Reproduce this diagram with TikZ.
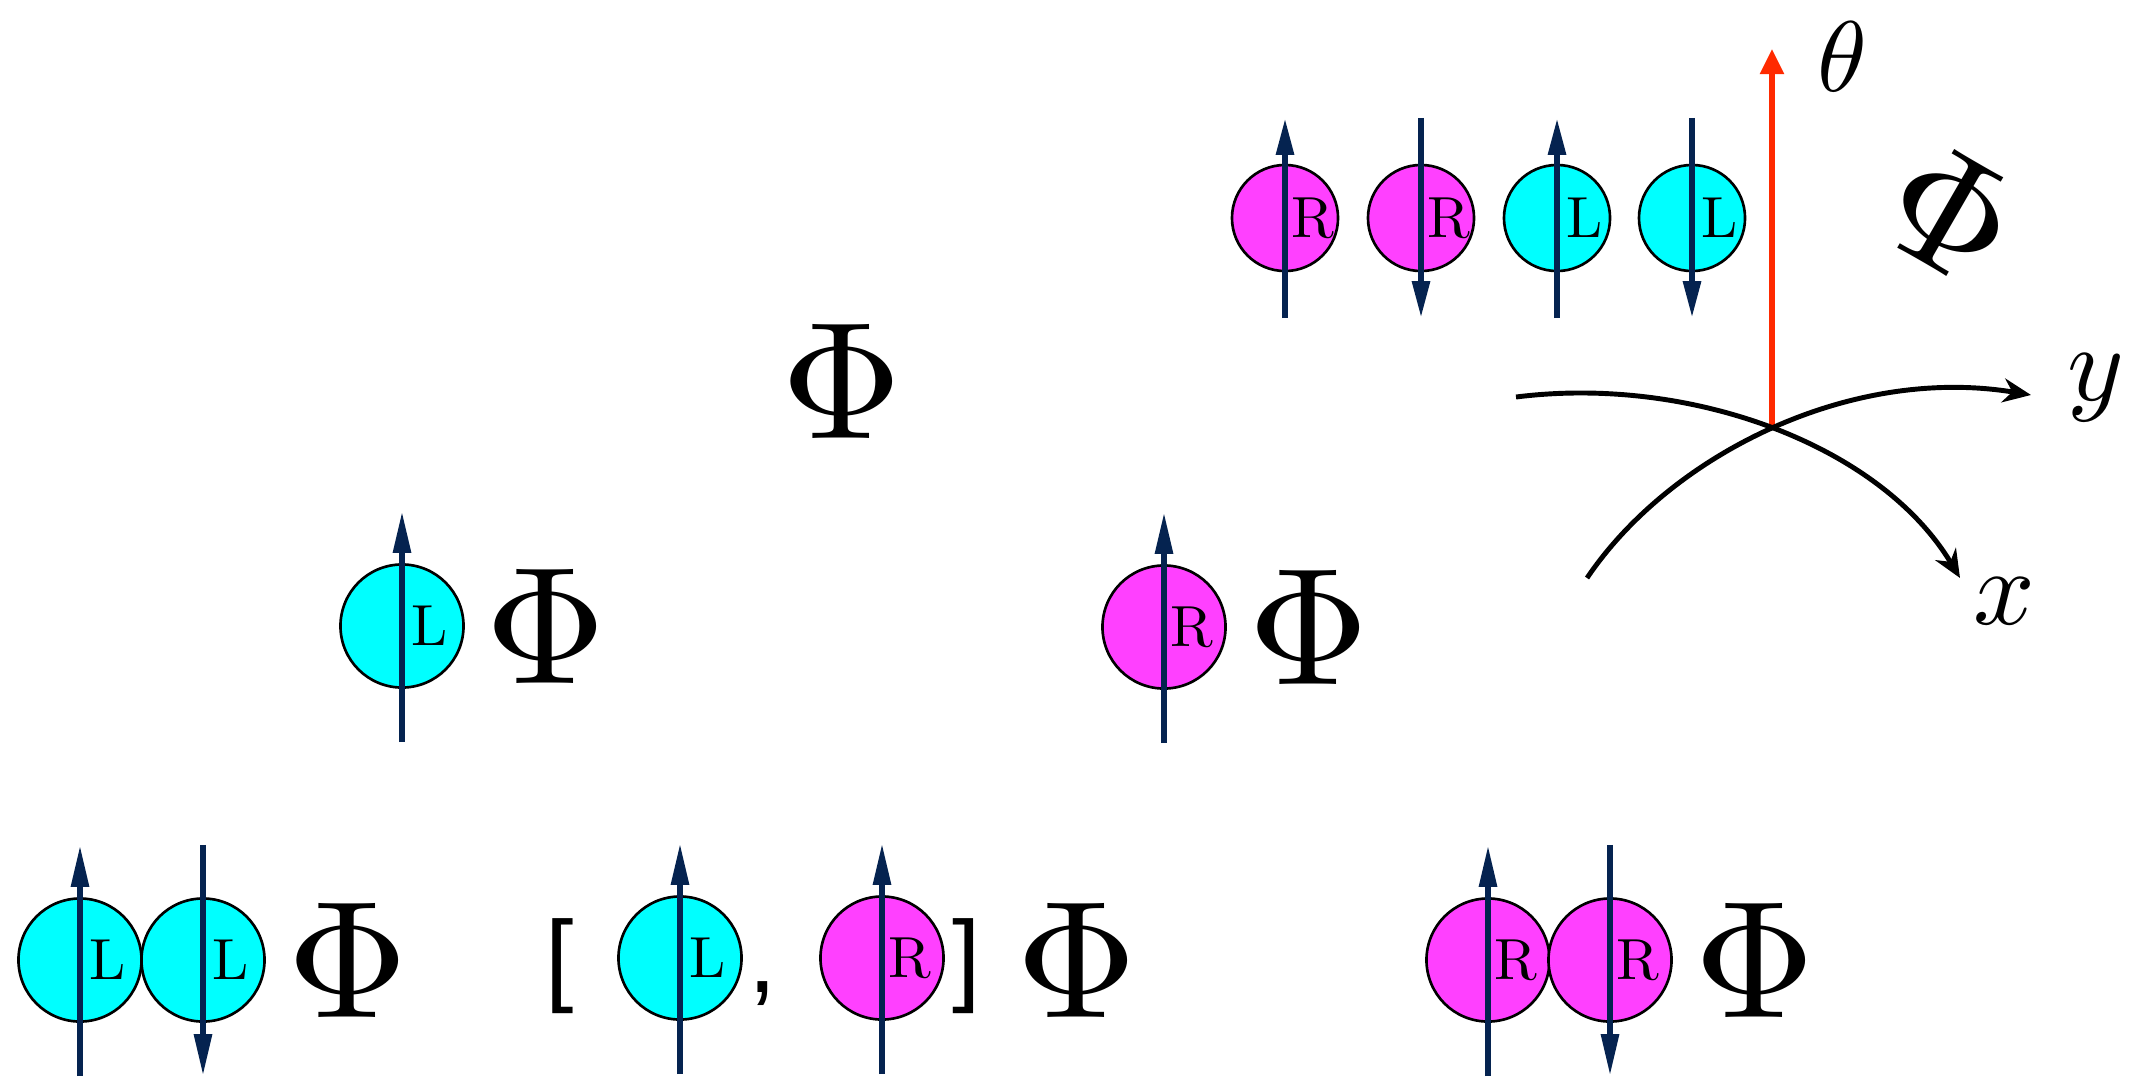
\documentclass[tikz,border=0pt]{standalone}
\usepackage{fontspec}
\newfontfamily\brkfont{Liberation Sans}
\usetikzlibrary{arrows.meta}
\definecolor{spinnavy}{HTML}{052350}
\definecolor{ballcyan}{HTML}{00FFFF}
\definecolor{ballmag}{HTML}{FF40FF}
\definecolor{thetared}{HTML}{FF2A00}
\begin{document}
\begin{tikzpicture}[x=0.01cm,y=-0.01cm,
  ball/.style={circle,draw=black,line width=0.75pt,inner sep=0pt,minimum size=1.23cm},
  lball/.style={ball,fill=ballcyan},
  rball/.style={ball,fill=ballmag},
  smallball/.style={minimum size=1.06cm},
  lbl/.style={inner sep=0pt,scale=1.65},
  phi/.style={inner sep=0pt,scale=4.75},
  brk/.style={inner sep=0pt,anchor=base,font=\brkfont\fontsize{29}{31}\selectfont},
  spin/.style={draw=spinnavy,line width=1.7pt,-{Triangle[length=0.42cm,width=0.17cm]}},
  sspin/.style={draw=spinnavy,line width=1.7pt,-{Triangle[length=0.37cm,width=0.17cm]}},
  axis/.style={draw=black,line width=1.4pt,-{Stealth[length=0.28cm,width=0.24cm]}},
  axlbl/.style={inner sep=0pt,scale=3.07},
]
\useasboundingbox (0,0) rectangle (2149,1078);

% ---------- top row ----------
\node[rball,smallball] (t1) at (1285,218) {};
\node[rball,smallball] (t2) at (1421,218) {};
\node[lball,smallball] (t3) at (1557,218) {};
\node[lball,smallball] (t4) at (1692,218) {};
\draw[sspin] ([yshift=-1.0cm]t1.center) -- ([yshift=1.0cm]t1.center);
\draw[sspin] ([yshift=1.0cm]t2.center) -- ([yshift=-1.0cm]t2.center);
\draw[sspin] ([yshift=-1.0cm]t3.center) -- ([yshift=1.0cm]t3.center);
\draw[sspin] ([yshift=1.0cm]t4.center) -- ([yshift=-1.0cm]t4.center);
\node[lbl] (t1l) at ([xshift=0.28cm]t1.center) {R};
\node[lbl] (t2l) at ([xshift=0.28cm]t2.center) {R};
\node[lbl] (t3l) at ([xshift=0.28cm]t3.center) {L};
\node[lbl] (t4l) at ([xshift=0.28cm]t4.center) {L};

% ---------- axes ----------
\coordinate (o) at (1772,425);
\coordinate (thtip) at (1772,49);
\coordinate (xs) at (1516,397);
\coordinate (xe) at (1960,578);
\coordinate (ys) at (1587,578);
\coordinate (ye) at (2031,395);
\draw[draw=thetared,line width=1.5pt,-{Triangle[length=0.25cm,width=0.23cm]}] (o) -- (thtip);
\draw[axis] (xs) .. controls (1690,375) and (1880,445) .. (xe);
\draw[axis] (ys) .. controls (1670,455) and (1850,365) .. (ye);
\node[inner sep=0pt,scale=2.85] (th) at (1842,57) {$\theta$};
\node[axlbl] (yl) at (2096,388) {$y$};
\node[axlbl] (xl) at (2004,601) {$x$};
\node[phi,rotate=-30] (phirot) at (1951,213) {$\Phi$};

% ---------- middle ----------
\node[phi] (phitop) at (842,381) {$\Phi$};
\node[lball] (m1) at (402,626) {};
\draw[spin] ([yshift=-1.16cm]m1.center) -- ([yshift=1.15cm]m1.center);
\node[lbl] (m1l) at ([xshift=0.28cm]m1.center) {L};
\node[phi] (m1p) at (546,626) {$\Phi$};
\node[rball] (m2) at (1164,627) {};
\draw[spin] ([yshift=-1.16cm]m2.center) -- ([yshift=1.15cm]m2.center);
\node[lbl] (m2l) at ([xshift=0.28cm]m2.center) {R};
\node[phi] (m2p) at (1309,627) {$\Phi$};

% ---------- bottom row ----------
\node[lball] (b1) at (80,960) {};
\node[lball] (b2) at (203,960) {};
\draw[spin] ([yshift=-1.16cm]b1.center) -- ([yshift=1.15cm]b1.center);
\draw[spin] ([yshift=1.15cm]b2.center) -- ([yshift=-1.16cm]b2.center);
\node[lbl] (b1l) at ([xshift=0.28cm]b1.center) {L};
\node[lbl] (b2l) at ([xshift=0.28cm]b2.center) {L};
\node[phi] (b1p) at (348,960) {$\Phi$};

\node[brk] (lbrk) at (560,992) {[};
\node[lball] (c1) at (680,958) {};
\draw[spin] ([yshift=-1.16cm]c1.center) -- ([yshift=1.15cm]c1.center);
\node[lbl] (c1l) at ([xshift=0.28cm]c1.center) {L};
\node[brk] (comma) at (763,992) {,};
\node[rball] (c2) at (882,958) {};
\draw[spin] ([yshift=-1.16cm]c2.center) -- ([yshift=1.15cm]c2.center);
\node[lbl] (c2l) at ([xshift=0.28cm]c2.center) {R};
\node[brk] (rbrk) at (967,992) {]};
\node[phi] (c2p) at (1077,960) {$\Phi$};

\node[rball] (d1) at (1488,960) {};
\node[rball] (d2) at (1610,960) {};
\draw[spin] ([yshift=-1.16cm]d1.center) -- ([yshift=1.15cm]d1.center);
\draw[spin] ([yshift=1.15cm]d2.center) -- ([yshift=-1.16cm]d2.center);
\node[lbl] (d1l) at ([xshift=0.28cm]d1.center) {R};
\node[lbl] (d2l) at ([xshift=0.28cm]d2.center) {R};
\node[phi] (d2p) at (1755,960) {$\Phi$};
\end{tikzpicture}
\end{document}
